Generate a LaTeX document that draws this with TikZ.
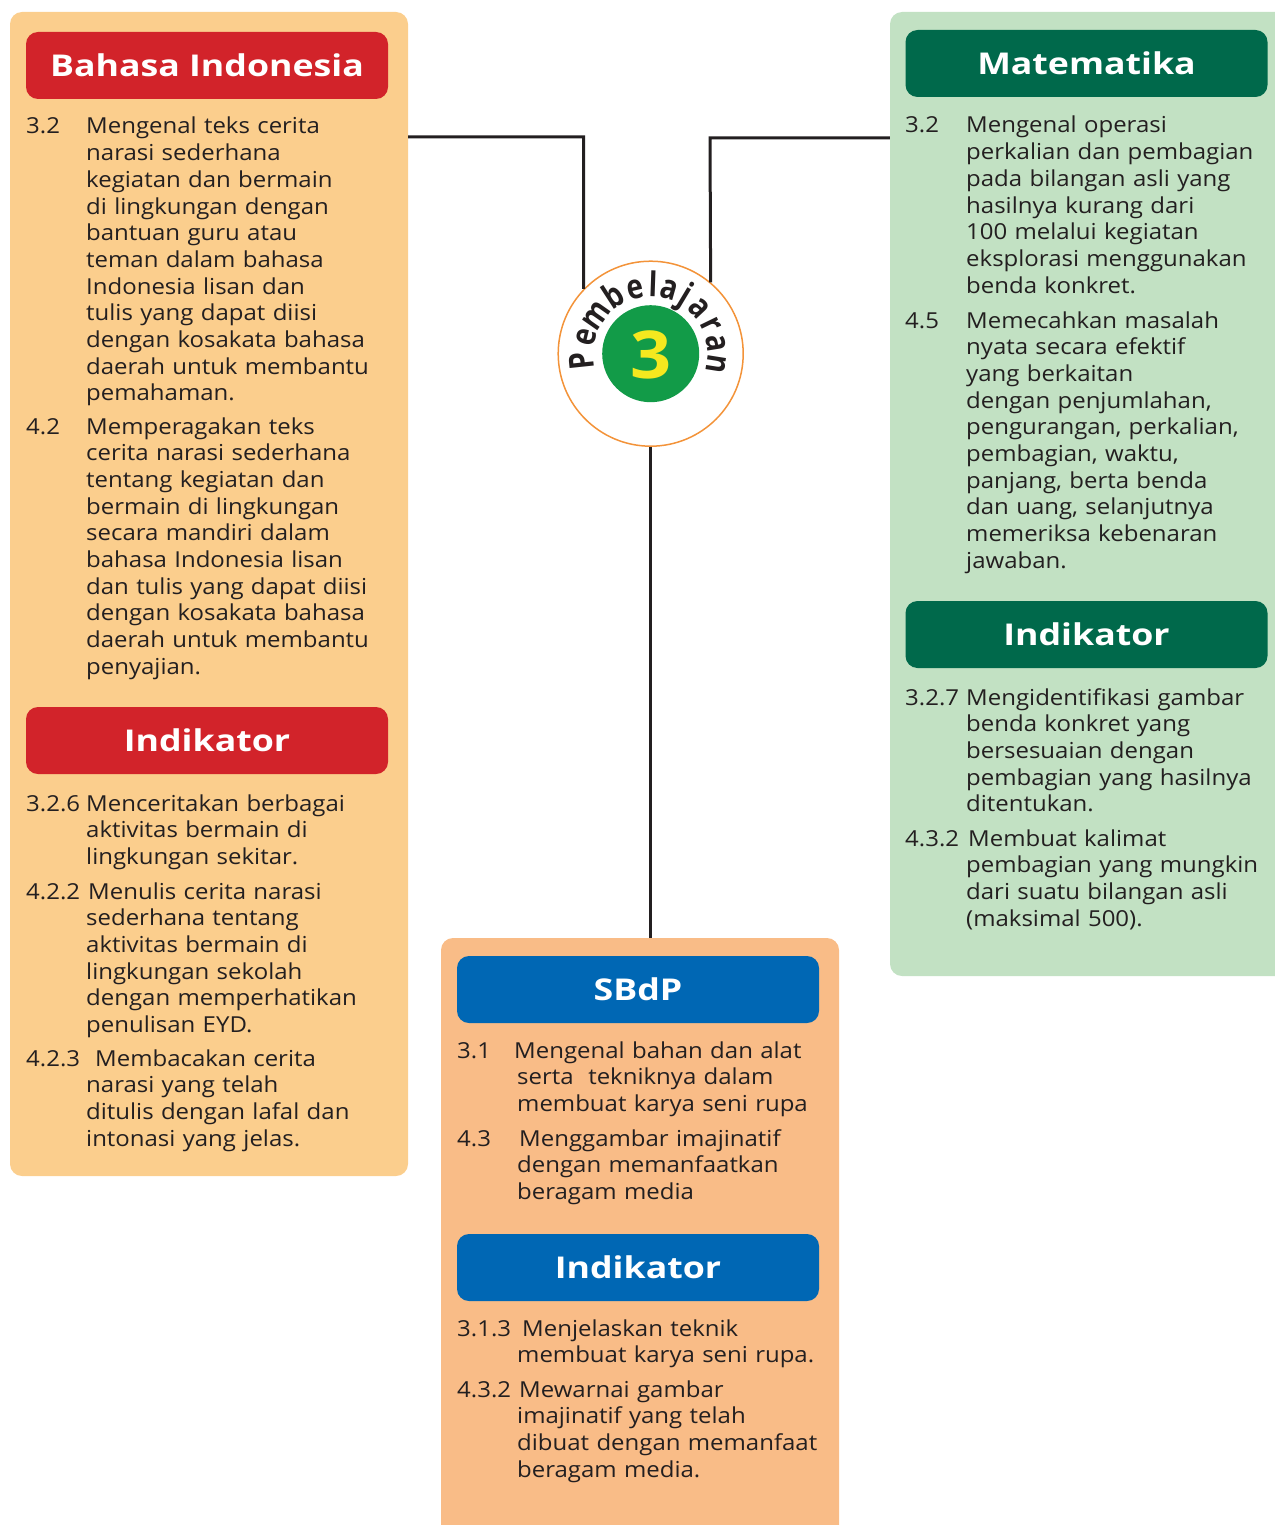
\documentclass[tikz,border=0pt]{standalone}
\usepackage{fontspec}
\setmainfont[FakeStretch=1.09]{Open Sans}
\newfontfamily\headfam[FakeStretch=1.19]{Open Sans}
\newfontfamily\curvefam[FakeStretch=0.82]{Open Sans}
\usetikzlibrary{calc}
\definecolor{ink}{HTML}{231F20}
\definecolor{bipanelc}{HTML}{FBCE8D}
\definecolor{bihead}{HTML}{D2232A}
\definecolor{mapanelc}{HTML}{C2E1C3}
\definecolor{mahead}{HTML}{00694B}
\definecolor{sbpanelc}{HTML}{F9BC87}
\definecolor{sbhead}{HTML}{0067B4}
\definecolor{ringc}{HTML}{F39339}
\definecolor{discc}{HTML}{129B48}
\definecolor{numc}{HTML}{F5E81F}
\newcommand\bodyfont{\fontsize{22}{26.7}\selectfont}
\newcommand\headfont{\headfam\fontsize{30}{30}\selectfont\bfseries}
\newcommand\curvefont{\curvefam\fontsize{34}{34}\selectfont\bfseries}
\tikzset{
  panel/.style={rounded corners=12pt, inner sep=0pt, draw=none},
  headbox/.style={rounded corners=12pt, inner sep=0pt, minimum width=362pt, minimum height=67pt, text=white, font=\headfont},
  numtext/.style={anchor=base west, inner sep=0pt, text=ink, font=\bodyfont},
  bodytext/.style={anchor=base west, inner sep=0pt, text=ink, font=\bodyfont, align=left, text width=340pt},
  arcletter/.style={anchor=base, inner sep=0pt, text=ink, font=\curvefont},
  link/.style={line width=3pt, draw=ink},
}
\begin{document}
\begin{tikzpicture}[x=1pt,y=1pt]
\useasboundingbox (0,0) rectangle (1274,-1525);
% panels
\node[panel, fill=bipanelc, minimum width=398pt, minimum height=1164pt] (bipanel) at (209,-594) {};
\node[panel, fill=mapanelc, minimum width=410pt, minimum height=964pt] (mapanel) at (1095,-494) {};
\node[panel, fill=sbpanelc, minimum width=398pt, minimum height=610pt] (sbpanel) at (640,-1243) {};
% headers
\node[headbox, fill=bihead] (bih) at (207,-65.5) {Bahasa Indonesia};
\node[headbox, fill=bihead] (bii) at (207,-740.5) {Indikator};
\node[headbox, fill=mahead] (mah) at (1086.5,-63.5) {Matematika};
\node[headbox, fill=mahead] (mai) at (1086.5,-634.5) {Indikator};
\node[headbox, fill=sbhead] (sbh) at (638,-989.5) {SBdP};
\node[headbox, fill=sbhead] (sbi) at (638,-1267.5) {Indikator};
% centre badge
\node[circle, draw=ringc, line width=1.5pt, fill=white, minimum size=185pt, inner sep=0pt] (circ) at (650.7,-353.7) {};
\node[circle, fill=discc, minimum size=97pt, inner sep=0pt] (disc) at (circ.center) {};
\node[inner sep=0pt, text=numc, font=\fontsize{66}{66}\selectfont\bfseries] (three) at ([yshift=-1pt]circ.center) {3};
\foreach \ang/\ch [count=\k] in {186/P,166/e,145/m,123/b,103/e,88/l,74/a,59/j,43/a,26/r,9/a,-9/n}{
  \node[arcletter, rotate=\ang-90] (arc\k) at ($(circ.center)+(\ang:57)$) {\ch};
}
% connectors
\coordinate (bij) at (583.7,-137);
\coordinate (maj) at (710,-138);
\draw[link] (bipanel.east |- bij) -- (bij) -- (circ.136.4);
\draw[link] (mapanel.west |- maj) -- (maj) -- (circ.50.1);
\draw[link] (circ.south) -- (circ.south |- sbpanel.north);
% Bahasa Indonesia
\node[numtext] (bi32n) at (26,-134) {3.2};
\node[bodytext] (bi32t) at (86,-134) {Mengenal teks cerita\\narasi sederhana\\kegiatan dan bermain\\di lingkungan dengan\\bantuan guru atau\\teman dalam bahasa\\Indonesia lisan dan\\tulis yang dapat diisi\\dengan kosakata bahasa\\daerah untuk membantu\\pemahaman.};
\node[numtext] (bi42n) at (26,-434) {4.2};
\node[bodytext] (bi42t) at (86,-434) {Memperagakan teks\\cerita narasi sederhana\\tentang kegiatan dan\\bermain di lingkungan\\secara mandiri dalam\\bahasa Indonesia lisan\\dan tulis yang dapat diisi\\dengan kosakata bahasa\\daerah untuk membantu\\penyajian.};
\node[numtext] (bi326n) at (26,-811) {3.2.6};
\node[bodytext] (bi326t) at (86,-811) {Menceritakan berbagai\\aktivitas bermain di\\lingkungan sekitar.};
\node[numtext] (bi422n) at (26,-899) {4.2.2};
\node[bodytext] (bi422t) at (86,-899) {\hspace*{2pt}Menulis cerita narasi\\sederhana tentang\\aktivitas bermain di\\lingkungan sekolah\\dengan memperhatikan\\penulisan EYD.};
\node[numtext] (bi423n) at (26,-1066) {4.2.3};
\node[bodytext] (bi423t) at (86,-1066) {\hspace*{9pt}Membacakan cerita\\narasi yang telah\\ditulis dengan lafal dan\\intonasi yang jelas.};
% Matematika
\node[numtext] (ma32n) at (905,-133) {3.2};
\node[bodytext] (ma32t) at (966,-133) {Mengenal operasi\\perkalian dan pembagian\\pada bilangan asli yang\\hasilnya kurang dari\\100 melalui kegiatan\\eksplorasi menggunakan\\benda konkret.};
\node[numtext] (ma45n) at (905,-328) {4.5};
\node[bodytext] (ma45t) at (966,-328) {Memecahkan masalah\\nyata secara efektif\\yang berkaitan\\dengan penjumlahan,\\pengurangan, perkalian,\\pembagian, waktu,\\panjang, berta benda\\dan uang, selanjutnya\\memeriksa kebenaran\\jawaban.};
\node[numtext] (ma327n) at (905,-705) {3.2.7};
\node[bodytext] (ma327t) at (966,-705) {Mengidentifikasi gambar\\benda konkret yang\\bersesuaian dengan\\pembagian yang hasilnya\\ditentukan.};
\node[numtext] (ma432n) at (905,-846) {4.3.2};
\node[bodytext] (ma432t) at (966,-846) {\hspace*{2pt}Membuat kalimat\\pembagian yang mungkin\\dari suatu bilangan asli\\(maksimal 500).};
% SBdP
\node[numtext] (sb31n) at (457,-1058) {3.1};
\node[bodytext] (sb31t) at (517,-1058) {\hspace*{-3pt}Mengenal bahan dan alat\\serta~ tekniknya dalam\\membuat karya seni rupa};
\node[numtext] (sb43n) at (457,-1146) {4.3};
\node[bodytext] (sb43t) at (517,-1146) {\hspace*{2pt}Menggambar imajinatif\\dengan memanfaatkan\\beragam media};
\node[numtext] (sb313n) at (457,-1336) {3.1.3};
\node[bodytext] (sb313t) at (517,-1336) {\hspace*{5pt}Menjelaskan teknik\\membuat karya seni rupa.};
\node[numtext] (sb432n) at (457,-1397) {4.3.2};
\node[bodytext] (sb432t) at (517,-1397) {\hspace*{2pt}Mewarnai gambar\\imajinatif yang telah\\dibuat dengan memanfaat\\beragam media.};
\end{tikzpicture}
\end{document}
